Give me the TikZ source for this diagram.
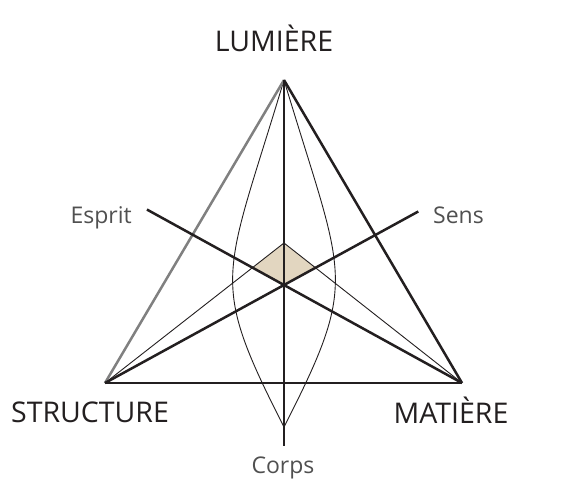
\documentclass[tikz,border=0pt]{standalone}
\usepackage{fontspec}
\setmainfont{Open Sans}
\usetikzlibrary{calc}
\definecolor{ink}{HTML}{231F20}
\definecolor{greyedge}{HTML}{808080}
\definecolor{beige}{HTML}{E2D6C0}
\definecolor{labelgrey}{HTML}{505050}
\begin{document}
\begin{tikzpicture}[x=1pt,y=-1pt,
  heavyline/.style={ink, line width=2.5pt},
  greyline/.style={greyedge, line width=2.5pt},
  fineline/.style={ink, line width=0.9pt},
  biglabel/.style={font=\fontsize{28.5}{33}\selectfont, text=ink, inner sep=0pt},
  smalllabel/.style={font=\fontsize{23}{27}\selectfont, text=labelgrey, inner sep=0pt}]
\useasboundingbox (0,0) rectangle (580,487);
\coordinate (T) at (284,80);
\coordinate (L) at (105,383);
\coordinate (R) at (462,383);
\coordinate (O) at (284,285);
\coordinate (P) at (284,243);
\coordinate (B) at (284,446);
\coordinate (tip) at (284,427);
\coordinate (E1) at ($(R)!1.77!(O)$);
\coordinate (S1) at ($(L)!1.75!(O)$);
\coordinate (DL) at (intersection of L--P and R--O);
\coordinate (DR) at (intersection of R--P and L--O);
% diamond
\fill[beige] (P) -- (DL) -- (O) -- (DR) -- cycle;
% lens curves
\draw[fineline] (T) .. controls (224,280) and (207.5,277) .. (tip);
\draw[fineline] (T) .. controls (344,280) and (360.5,277) .. (tip);
% thin lines to diamond top
\draw[fineline] (L) -- (P);
\draw[fineline] (R) -- (P);
% triangle
\draw[greyline] (L) -- (T);
\draw[heavyline] (T) -- (R);
\draw[heavyline] (L) -- (R);
% axes
\draw[heavyline] (T) -- (B);
\draw[heavyline] (R) -- (E1);
\draw[heavyline] (L) -- (S1);
% labels
\node[biglabel, anchor=base] (lum) at (274,52) {LUMIÈRE};
\node[biglabel, anchor=base] (str) at (90,422) {STRUCTURE};
\node[biglabel, anchor=base] (mat) at (451,423) {MATIÈRE};
\node[smalllabel, anchor=base east] (esp) at (132,223) {Esprit};
\node[smalllabel, anchor=base west] (sen) at (433,223) {Sens};
\node[smalllabel, anchor=base] (cor) at (283,473) {Corps};
\end{tikzpicture}
\end{document}
